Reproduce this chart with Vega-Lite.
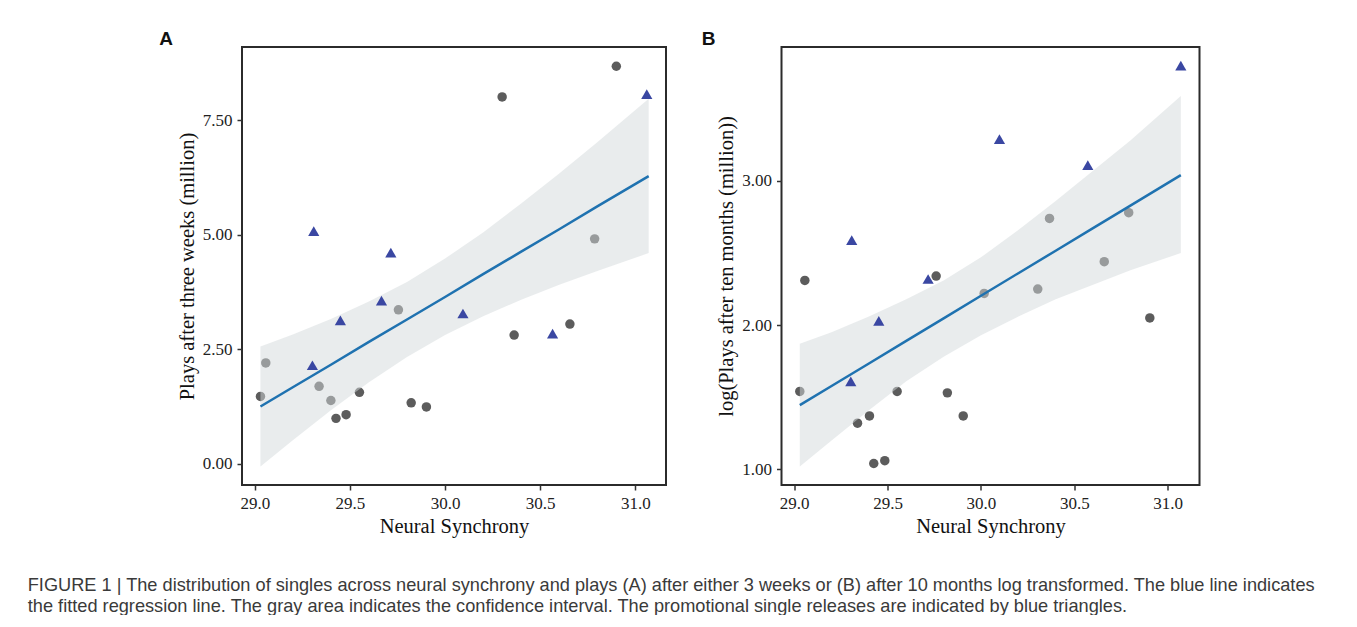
{
  "$schema": "https://vega.github.io/schema/vega-lite/v6.json",
  "padding": {"left": 27, "top": 29, "right": 0, "bottom": 0},
  "background": "white",
  "datasets": {
    "pointsA": [
      {"x": 30.90, "y": 8.68, "promo": "no"},
      {"x": 30.30, "y": 8.01, "promo": "no"},
      {"x": 30.786, "y": 4.91, "promo": "no"},
      {"x": 29.755, "y": 3.36, "promo": "no"},
      {"x": 30.656, "y": 3.05, "promo": "no"},
      {"x": 30.363, "y": 2.81, "promo": "no"},
      {"x": 29.058, "y": 2.20, "promo": "no"},
      {"x": 29.338, "y": 1.69, "promo": "no"},
      {"x": 29.03, "y": 1.47, "promo": "no"},
      {"x": 29.55, "y": 1.56, "promo": "no"},
      {"x": 29.40, "y": 1.38, "promo": "no"},
      {"x": 29.822, "y": 1.33, "promo": "no"},
      {"x": 29.902, "y": 1.24, "promo": "no"},
      {"x": 29.427, "y": 0.99, "promo": "no"},
      {"x": 29.48, "y": 1.07, "promo": "no"},
      {"x": 31.06, "y": 8.07, "promo": "yes"},
      {"x": 29.31, "y": 5.08, "promo": "yes"},
      {"x": 29.715, "y": 4.61, "promo": "yes"},
      {"x": 29.666, "y": 3.56, "promo": "yes"},
      {"x": 29.45, "y": 3.13, "promo": "yes"},
      {"x": 30.094, "y": 3.28, "promo": "yes"},
      {"x": 30.565, "y": 2.84, "promo": "yes"},
      {"x": 29.303, "y": 2.15, "promo": "yes"}
    ],
    "pointsB": [
      {"x": 30.367, "y": 2.74, "promo": "no"},
      {"x": 30.791, "y": 2.78, "promo": "no"},
      {"x": 30.66, "y": 2.44, "promo": "no"},
      {"x": 29.76, "y": 2.34, "promo": "no"},
      {"x": 29.057, "y": 2.31, "promo": "no"},
      {"x": 30.304, "y": 2.25, "promo": "no"},
      {"x": 30.017, "y": 2.22, "promo": "no"},
      {"x": 30.904, "y": 2.05, "promo": "no"},
      {"x": 29.03, "y": 1.54, "promo": "no"},
      {"x": 29.551, "y": 1.54, "promo": "no"},
      {"x": 29.82, "y": 1.53, "promo": "no"},
      {"x": 29.905, "y": 1.37, "promo": "no"},
      {"x": 29.403, "y": 1.37, "promo": "no"},
      {"x": 29.339, "y": 1.32, "promo": "no"},
      {"x": 29.426, "y": 1.04, "promo": "no"},
      {"x": 29.485, "y": 1.06, "promo": "no"},
      {"x": 31.07, "y": 3.80, "promo": "yes"},
      {"x": 30.099, "y": 3.29, "promo": "yes"},
      {"x": 30.572, "y": 3.11, "promo": "yes"},
      {"x": 29.308, "y": 2.59, "promo": "yes"},
      {"x": 29.717, "y": 2.32, "promo": "yes"},
      {"x": 29.453, "y": 2.03, "promo": "yes"},
      {"x": 29.303, "y": 1.61, "promo": "yes"}
    ],
    "bandA": [
      {"x": 29.03, "lo": -0.06, "hi": 2.56, "fit": 1.25},
      {"x": 29.2, "lo": 0.51, "hi": 2.82, "fit": 1.67},
      {"x": 29.4, "lo": 1.17, "hi": 3.16, "fit": 2.16},
      {"x": 29.6, "lo": 1.78, "hi": 3.54, "fit": 2.66},
      {"x": 29.8, "lo": 2.33, "hi": 3.97, "fit": 3.15},
      {"x": 30.0, "lo": 2.81, "hi": 4.48, "fit": 3.64},
      {"x": 30.2, "lo": 3.22, "hi": 5.05, "fit": 4.14},
      {"x": 30.4, "lo": 3.58, "hi": 5.68, "fit": 4.63},
      {"x": 30.6, "lo": 3.91, "hi": 6.34, "fit": 5.12},
      {"x": 30.8, "lo": 4.21, "hi": 7.02, "fit": 5.62},
      {"x": 31.07, "lo": 4.60, "hi": 7.97, "fit": 6.28}
    ],
    "bandB": [
      {"x": 29.03, "lo": 1.02, "hi": 1.87, "fit": 1.445},
      {"x": 29.2, "lo": 1.20, "hi": 1.95, "fit": 1.578},
      {"x": 29.4, "lo": 1.41, "hi": 2.06, "fit": 1.734},
      {"x": 29.6, "lo": 1.61, "hi": 2.18, "fit": 1.891},
      {"x": 29.8, "lo": 1.78, "hi": 2.31, "fit": 2.047},
      {"x": 30.0, "lo": 1.93, "hi": 2.47, "fit": 2.204},
      {"x": 30.2, "lo": 2.06, "hi": 2.66, "fit": 2.360},
      {"x": 30.4, "lo": 2.18, "hi": 2.86, "fit": 2.516},
      {"x": 30.6, "lo": 2.28, "hi": 3.07, "fit": 2.673},
      {"x": 30.8, "lo": 2.38, "hi": 3.28, "fit": 2.829},
      {"x": 31.07, "lo": 2.50, "hi": 3.59, "fit": 3.040}
    ]
  },
  "title": {
    "text": [
      "FIGURE 1 | The distribution of singles across neural synchrony and plays (A) after either 3 weeks or (B) after 10 months log transformed. The blue line indicates",
      "the fitted regression line. The gray area indicates the confidence interval. The promotional single releases are indicated by blue triangles."
    ],
    "orient": "bottom",
    "anchor": "start",
    "frame": "bounds",
    "font": "Liberation Sans",
    "fontSize": 18.2,
    "fontWeight": "normal",
    "color": "#3a3a3a",
    "lineHeight": 21,
    "offset": 39,
    "dx": -130.5
  },
  "spacing": 33.5,
  "hconcat": [
    {
      "width": 424,
      "height": 438,
      "title": {"text": "A", "anchor": "start", "frame": "bounds", "dx": -18, "offset": -2, "font": "Liberation Sans", "fontSize": 19, "fontWeight": "bold", "color": "#111"},
      "encoding": {
        "x": {"field": "x", "type": "quantitative", "title": "Neural Synchrony",
              "scale": {"domain": [28.933, 31.161], "nice": false, "zero": false},
              "axis": {"values": [29.0, 29.5, 30.0, 30.5, 31.0], "format": ".1f"}}
      },
      "layer": [
        {
          "data": {"name": "pointsA"},
          "transform": [{"filter": "datum.promo == 'no'"}],
          "mark": {"type": "point", "shape": "circle", "filled": true, "size": 90, "color": "#5c5c5c", "opacity": 1},
          "encoding": {
            "y": {"field": "y", "type": "quantitative", "title": "Plays after three weeks (million)",
                  "scale": {"domain": [-0.465, 9.10], "nice": false, "zero": false},
                  "axis": {"values": [0, 2.5, 5, 7.5], "format": ".2f"}}
          }
        },
        {
          "data": {"name": "bandA"},
          "mark": {"type": "area", "color": "#d3d9dc", "opacity": 0.5},
          "encoding": {
            "y": {"field": "lo", "type": "quantitative", "title": "Plays after three weeks (million)"},
            "y2": {"field": "hi"}
          }
        },
        {
          "data": {"name": "pointsA"},
          "transform": [{"filter": "datum.promo == 'yes'"}],
          "mark": {"type": "point", "shape": "triangle-up", "filled": true, "size": 125, "color": "#3a47a2", "opacity": 1},
          "encoding": {
            "y": {"field": "y", "type": "quantitative", "title": "Plays after three weeks (million)"}
          }
        },
        {
          "data": {"name": "bandA"},
          "mark": {"type": "line", "color": "#1f72b0", "strokeWidth": 2.5},
          "encoding": {
            "y": {"field": "fit", "type": "quantitative", "title": "Plays after three weeks (million)"}
          }
        }
      ]
    },
    {
      "width": 418,
      "height": 438,
      "title": {"text": "B", "anchor": "start", "frame": "bounds", "dx": -15, "offset": -2, "font": "Liberation Sans", "fontSize": 19, "fontWeight": "bold", "color": "#111"},
      "encoding": {
        "x": {"field": "x", "type": "quantitative", "title": "Neural Synchrony",
              "scale": {"domain": [28.932, 31.17], "nice": false, "zero": false},
              "axis": {"values": [29.0, 29.5, 30.0, 30.5, 31.0], "format": ".1f"}}
      },
      "layer": [
        {
          "data": {"name": "pointsB"},
          "transform": [{"filter": "datum.promo == 'no'"}],
          "mark": {"type": "point", "shape": "circle", "filled": true, "size": 90, "color": "#5c5c5c", "opacity": 1},
          "encoding": {
            "y": {"field": "y", "type": "quantitative", "title": "log(Plays after ten months (million))",
                  "scale": {"domain": [0.891, 3.929], "nice": false, "zero": false},
                  "axis": {"values": [1, 2, 3], "format": ".2f"}}
          }
        },
        {
          "data": {"name": "bandB"},
          "mark": {"type": "area", "color": "#d3d9dc", "opacity": 0.5},
          "encoding": {
            "y": {"field": "lo", "type": "quantitative", "title": "log(Plays after ten months (million))"},
            "y2": {"field": "hi"}
          }
        },
        {
          "data": {"name": "pointsB"},
          "transform": [{"filter": "datum.promo == 'yes'"}],
          "mark": {"type": "point", "shape": "triangle-up", "filled": true, "size": 125, "color": "#3a47a2", "opacity": 1},
          "encoding": {
            "y": {"field": "y", "type": "quantitative", "title": "log(Plays after ten months (million))"}
          }
        },
        {
          "data": {"name": "bandB"},
          "mark": {"type": "line", "color": "#1f72b0", "strokeWidth": 2.5},
          "encoding": {
            "y": {"field": "fit", "type": "quantitative", "title": "log(Plays after ten months (million))"}
          }
        }
      ]
    }
  ],
  "config": {
    "view": {"stroke": "#2b2b2b", "strokeWidth": 2},
    "axis": {
      "grid": false,
      "domain": false,
      "ticks": true,
      "tickColor": "#333333",
      "tickSize": 5,
      "tickWidth": 1.5,
      "labelFont": "Liberation Serif",
      "labelFontSize": 17,
      "labelColor": "#222222",
      "labelPadding": 5,
      "titleFont": "Liberation Serif",
      "titleFontSize": 20.5,
      "titleFontWeight": "normal",
      "titleColor": "#111111",
      "titlePadding": 5
    }
  }
}
